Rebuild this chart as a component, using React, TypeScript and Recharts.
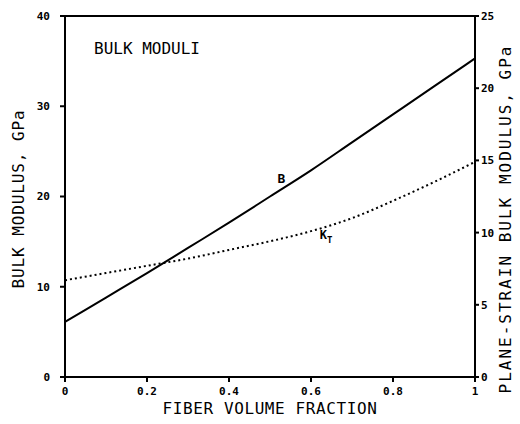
import React from "react";
import {
  LineChart,
  Line,
  XAxis,
  YAxis,
  ReferenceLine,
  ReferenceDot,
  Label,
} from "recharts";

const fractions = [0, 0.1, 0.2, 0.3, 0.4, 0.5, 0.6, 0.7, 0.8, 0.9, 1.0];
const bulkB = [6.1, 8.8, 11.5, 14.3, 17.1, 20.0, 22.9, 26.0, 29.1, 32.2, 35.3];
const kT = [6.7, 7.2, 7.7, 8.2, 8.8, 9.4, 10.1, 11.0, 12.2, 13.5, 14.9];
const xTicks = [0, 0.2, 0.4, 0.6, 0.8, 1];
const leftTicks = [0, 10, 20, 30, 40];
const rightTicks = [0, 5, 10, 15, 20, 25];

const data = fractions.map((f, i) => ({ f, B: bulkB[i], KT: kT[i] }));

const FONT = "'DejaVu Sans Mono', monospace";
const tickStyle = { fill: "#000", fontSize: 11, fontWeight: "bold", fontFamily: FONT };
const fmtX = (v: number) => (v === 0 ? "0" : v === 1 ? "1" : v.toFixed(1));

const LeftLabel = () => (
  <text
    x={18}
    y={199}
    transform="rotate(-90 18 199)"
    textAnchor="middle"
    dominantBaseline="central"
    fontFamily={FONT}
    fontSize={16}
    fill="#000"
    letterSpacing={0.9}
  >
    BULK MODULUS, GPa
  </text>
);

const RightLabel = () => (
  <text
    x={505}
    y={219}
    transform="rotate(-90 505 219)"
    textAnchor="middle"
    dominantBaseline="central"
    fontFamily={FONT}
    fontSize={16}
    fill="#000"
    letterSpacing={2}
  >
    PLANE-STRAIN BULK MODULUS, GPa
  </text>
);

const XLabel = () => (
  <text
    x={270}
    y={408}
    textAnchor="middle"
    dominantBaseline="central"
    fontFamily={FONT}
    fontSize={16}
    fill="#000"
    letterSpacing={0.6}
  >
    FIBER VOLUME FRACTION
  </text>
);

const KtLabel = (props: any) => {
  const vb = props.viewBox || {};
  const x = (vb.x ?? 0) + (vb.width ?? 0) / 2;
  const y = (vb.y ?? 0) + (vb.height ?? 0) / 2;
  return (
    <text x={x} y={y} fontFamily={FONT} fontWeight="bold" fill="#000" textAnchor="middle" dominantBaseline="central">
      <tspan fontSize={12}>K</tspan>
      <tspan fontSize={9} dy={5}>T</tspan>
    </text>
  );
};

export default function App() {
  return (
    <div style={{ position: "absolute", left: 0, top: 0, background: "#fff" }}>
      <LineChart
        width={520}
        height={424}
        data={data}
        margin={{ top: 16, right: 0, bottom: 0, left: 0 }}
      >
        <XAxis
          dataKey="f"
          type="number"
          domain={[0, 1]}
          ticks={xTicks}
          tickFormatter={fmtX}
          height={47}
          tick={tickStyle}
          tickSize={5}
          tickMargin={5}
          axisLine={{ stroke: "#000", strokeWidth: 2 }}
          tickLine={{ stroke: "#000", strokeWidth: 2 }}
        >
          <Label content={<XLabel />} />
        </XAxis>
        <YAxis
          yAxisId="left"
          domain={[0, 40]}
          ticks={leftTicks}
          width={65}
          tick={tickStyle}
          tickSize={5}
          tickMargin={10}
          axisLine={{ stroke: "#000", strokeWidth: 2 }}
          tickLine={{ stroke: "#000", strokeWidth: 2 }}
        >
          <Label content={<LeftLabel />} />
        </YAxis>
        <YAxis
          yAxisId="right"
          orientation="right"
          domain={[0, 25]}
          ticks={rightTicks}
          width={45}
          tick={tickStyle}
          tickSize={4}
          tickMargin={2}
          axisLine={{ stroke: "#000", strokeWidth: 2 }}
          tickLine={{ stroke: "#000", strokeWidth: 2 }}
        >
          <Label content={<RightLabel />} />
        </YAxis>
        <ReferenceLine yAxisId="left" y={40} stroke="#000" strokeWidth={2} />
        <Line
          yAxisId="left"
          dataKey="B"
          type="monotone"
          stroke="#000"
          strokeWidth={2}
          dot={false}
          isAnimationActive={false}
        />
        <Line
          yAxisId="right"
          dataKey="KT"
          type="monotone"
          stroke="#000"
          strokeWidth={2}
          strokeDasharray="2 3"
          dot={false}
          isAnimationActive={false}
        />
        <ReferenceDot
          yAxisId="left"
          x={0.2}
          y={36.45}
          r={0}
          fill="none"
          stroke="none"
          label={{ value: "BULK MODULI", position: "center", fill: "#000", fontSize: 16, fontFamily: FONT }}
        />
        <ReferenceDot
          yAxisId="left"
          x={0.528}
          y={22.0}
          r={0}
          fill="none"
          stroke="none"
          label={{ value: "B", position: "center", fill: "#000", fontSize: 13, fontWeight: "bold", fontFamily: FONT }}
        />
        <ReferenceDot
          yAxisId="left"
          x={0.637}
          y={15.7}
          r={0}
          fill="none"
          stroke="none"
          label={<KtLabel />}
        />
      </LineChart>
    </div>
  );
}
